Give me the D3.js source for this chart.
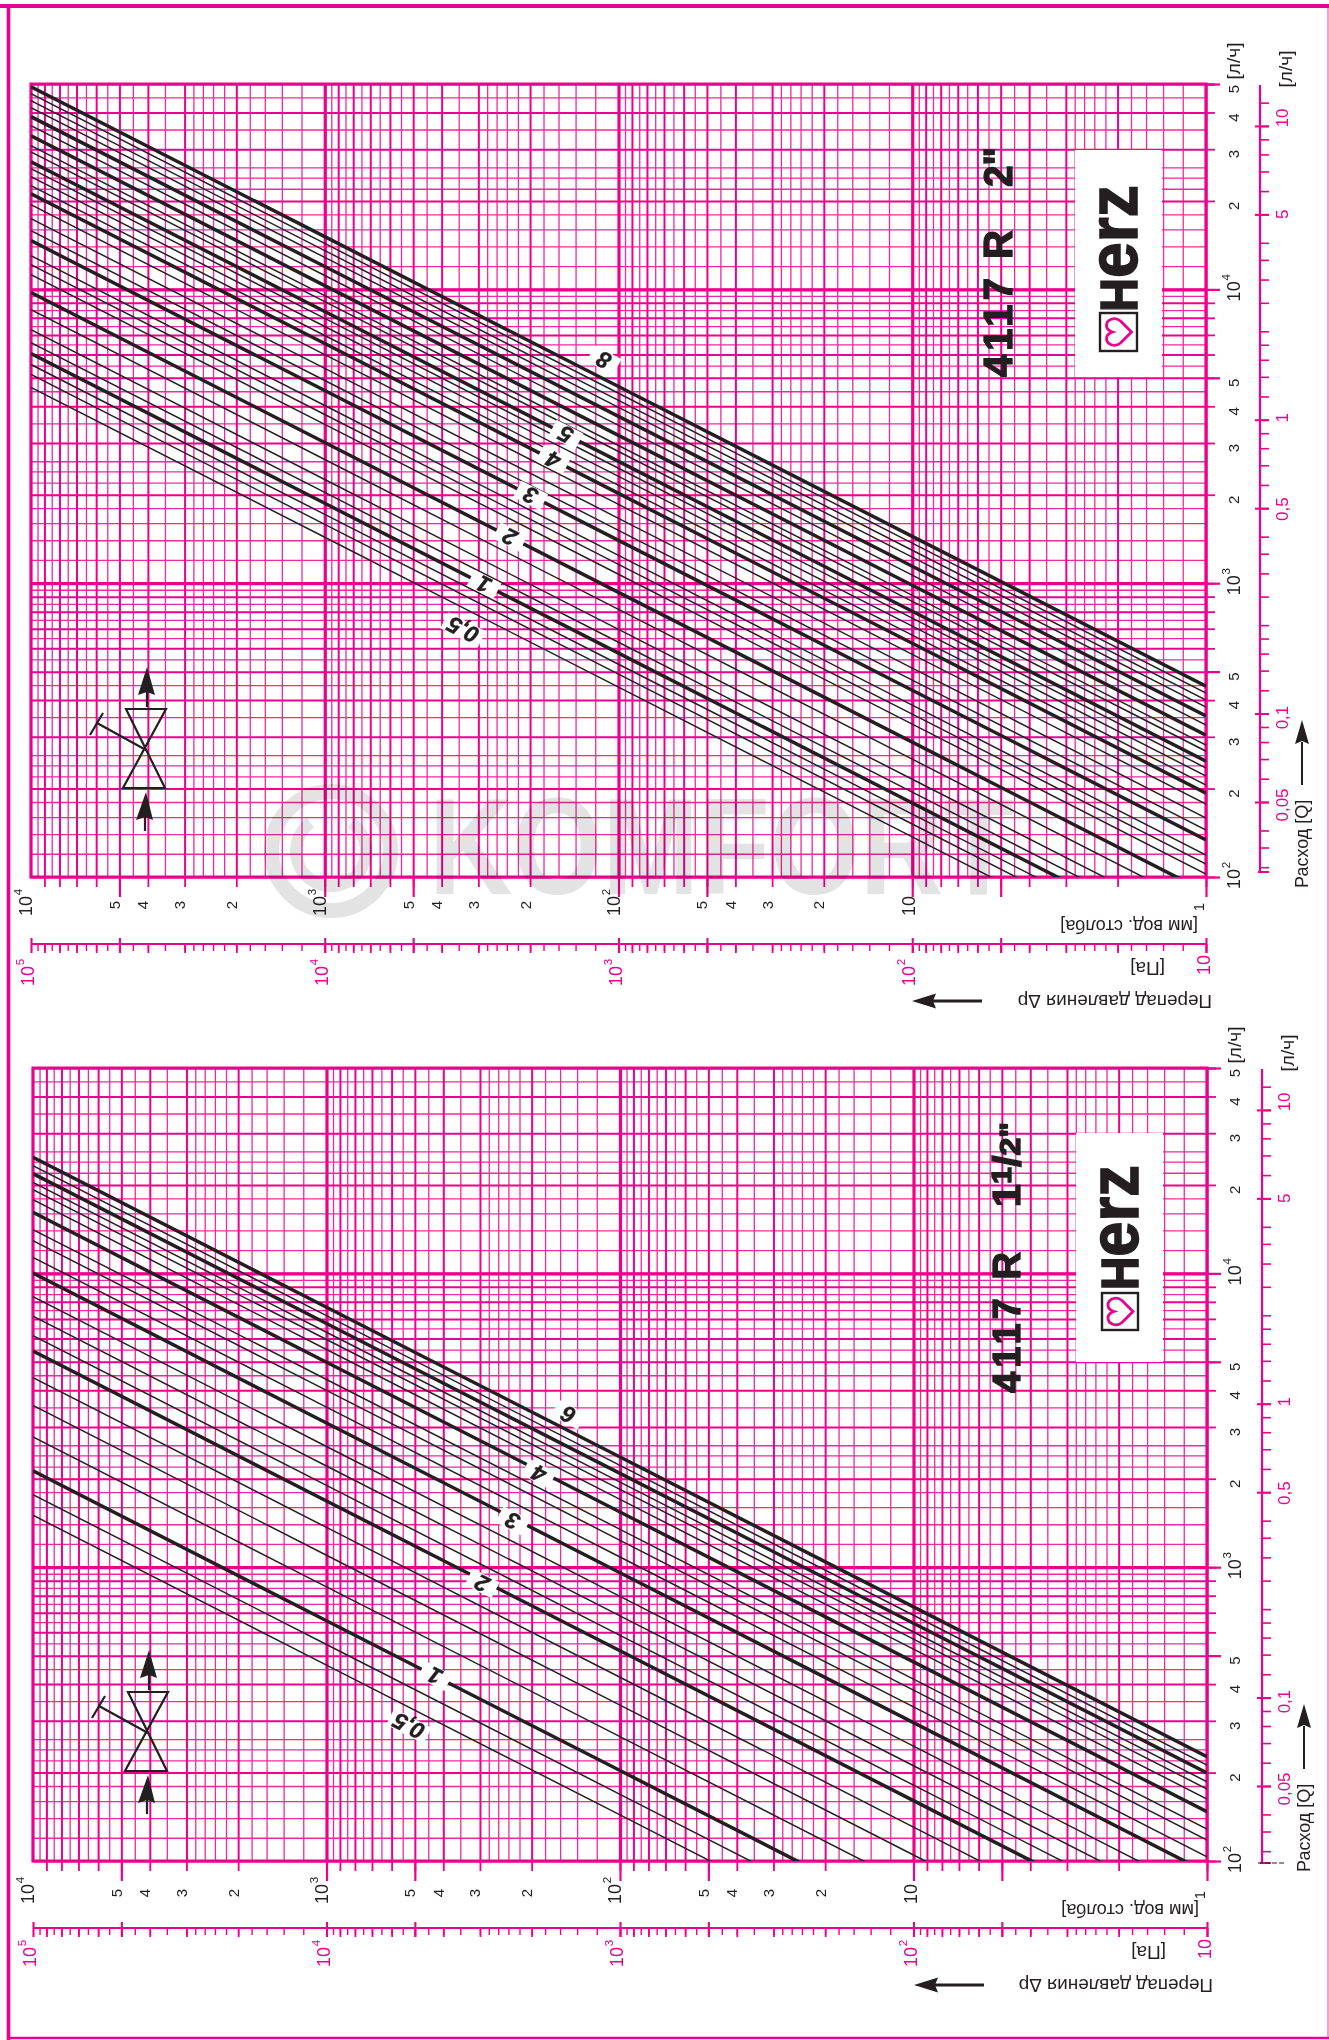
<!DOCTYPE html>
<html><head><meta charset="utf-8">
<style>html,body{margin:0;padding:0;background:#fff}svg{display:block}text{font-family:"Liberation Sans",Arial,sans-serif}</style>
<script src="https://cdn.jsdelivr.net/npm/d3@7/dist/d3.min.js"></script>
</head><body><script>
// ---- data ----
const flowMantissas=[1,1.2,1.4,1.6,1.8,2,2.2,2.4,2.6,3,3.5,4,4.5,5,5.5,6,6.5,7,7.5,8,8.5,9,9.5];
const dropMantissas=[1,1.2,1.4,1.6,1.8,2,2.2,2.4,2.6,2.8,3,3.5,4,4.5,5,5.5,6,6.5,7,7.5,8,8.5,9,9.5];
const majorMantissas=[1,2,3,4,5,6,7,8,9];
const heavyMantissas=[1,5];
const flowAxisMantissas=[1,1.2,1.4,1.6,1.8,2,2.5,3,3.5,4,5,6,7,8,9];
const digitLabels=[5,4,3,2];
const flowDecades=[100,1000,10000];
const dropDecades=[1,10,100,1000];
const flowExponent=0.51;
// flow [l/h] of each presetting curve at a drop of 1 mm
const thick2=[446,353,304,248,193,133.6,88.9,55.2];
const thin2=[423,400,379,329,281,268,235,220.6,205.6,177,158.8,144.5,118.8,110.7,102.4,77.8,66.5,60.1,50.6,46.8,42.3];
const thick15=[226.4,199.2,147.1,91.4,49.6,19.4];
const thin15=[212,186,175.8,162.5,128.5,117.9,103.4,76,65.2,56,40.3,32.4,25.3,16.1,13.7];
const labelText2=["8","5","4","3","2","1","0,5"];
const labelFlow2=[446,248,193,133.6,88.9,55.2,42.3];
const labelDrop2=[112,151,167,199,234,287,338];
const labelShift2=[-19,0,0,0,0,0,22];
const labelText15=["6","4","3","2","1","0,5"];
const labelFlow15=[226.4,147.1,91.4,49.6,19.4,13.7];
const labelDrop15=[150,189,232,295,427,524];
const labelShift15=[-16,3,3,3,0,19];
const lpsLabels=["10","5","1","0,5","0,1","0,05"];
const lpsValues=[10,5,1,0.5,0.1,0.05];
const lpsNudge=[-8,0,-2,1,4,3];

// ---- palette / layout ----
const PINK="#ec008c",INK="#231f20",FLOW_TOP=50000,FLOW_BOTTOM=100;
const W=1329,H=2040;
const svg=d3.select("body").append("svg").attr("width",W).attr("height",H).attr("viewBox",`0 0 ${W} ${H}`);
svg.append("rect").attr("width",W).attr("height",H).attr("fill","#fff");

const expand=(decades,mant,lo,hi)=>decades.flatMap(d=>mant.map(m=>+(d*m).toPrecision(6))).filter(v=>v>=lo&&v<=hi);
const clipId=(id)=>`clip-${id}`;

function rot(g,x,y,txt,o={}){
  return g.append("text").attr("transform",`translate(${x},${y}) rotate(${o.r===undefined?-90:o.r})`)
    .attr("text-anchor",o.a||"middle").attr("dominant-baseline","central")
    .attr("font-size",o.s||15).attr("font-weight",o.w||400).attr("font-style",o.i||"normal")
    .attr("fill",o.f||INK).text(txt);
}
function pow10(g,x,y,exp,f){
  rot(g,x,y,"10",{s:18,f});
  rot(g,x-8,y-14,exp,{s:11.5,f});
}
function styleTicks(sel,color,width){
  sel.select(".domain").remove();
  sel.selectAll("text").remove();
  sel.selectAll("line").attr("stroke",color).attr("stroke-width",width);
}

function chart(c){
  const g=svg.append("g").attr("id",c.id);
  const x=d3.scaleLog().domain([1e4,1]).range([c.l,c.r]);
  const y=d3.scaleLog().domain([FLOW_BOTTOM,FLOW_TOP]).range([c.b,c.t]);
  const pa=d3.scaleLog().domain([1e5,10]).range([c.l,c.r]);
  const lps=d3.scaleLog().domain([FLOW_BOTTOM/3600,FLOW_TOP/3600]).range([c.b,c.t]);
  const pw=c.r-c.l,ph=c.b-c.t;

  g.append("clipPath").attr("id",clipId(c.id)).append("rect").attr("x",c.l).attr("y",c.t).attr("width",pw).attr("height",ph);

  // grid
  const isMajor=v=>majorMantissas.includes(+(v/Math.pow(10,Math.floor(Math.log10(v)+1e-9))).toFixed(3));
  const isHeavy=v=>heavyMantissas.includes(+(v/Math.pow(10,Math.floor(Math.log10(v)+1e-9))).toFixed(3));
  const dropAll=expand(dropDecades,dropMantissas,1,1e4);
  const dropMajor=dropAll.filter(isMajor),dropMinor=dropAll.filter(v=>!isMajor(v));
  const flowAll=expand(flowDecades,flowMantissas,100,5e4);
  const flowMajor=flowAll.filter(isMajor),flowMinor=flowAll.filter(v=>!isMajor(v));

  const ax=(gen,tx,ty,col,w)=>{const s=g.append("g").attr("transform",`translate(${tx},${ty})`).call(gen);styleTicks(s,col,w);return s;};
  ax(d3.axisBottom(x).tickValues(dropMinor).tickSize(-ph).tickFormat(""),0,c.b,"#ee2a9c",1.3);
  ax(d3.axisLeft(y).tickValues(flowMinor).tickSize(-pw).tickFormat(""),c.l,0,"#ee2a9c",1.3);
  ax(d3.axisBottom(x).tickValues(dropMajor).tickSize(-ph).tickFormat(""),0,c.b,PINK,2);
  ax(d3.axisLeft(y).tickValues(flowMajor).tickSize(-pw).tickFormat(""),c.l,0,PINK,2);
  ax(d3.axisBottom(x).tickValues([10,100,1000]).tickSize(-ph).tickFormat(""),0,c.b,PINK,3.2);
  ax(d3.axisLeft(y).tickValues([1000,10000]).tickSize(-pw).tickFormat(""),c.l,0,PINK,3.2);

  // tick stubs out of the frame
  ax(d3.axisBottom(x).tickValues(dropMajor).tickSize(10).tickFormat(""),0,c.b,PINK,1.8);
  ax(d3.axisBottom(x).tickValues(dropMajor.filter(isHeavy)).tickSize(20).tickFormat(""),0,c.b,PINK,2.2);
  ax(d3.axisRight(y).tickValues(flowMajor.concat([FLOW_TOP])).tickSize(9).tickFormat(""),c.r,0,PINK,1.8);
  ax(d3.axisRight(y).tickValues(flowMajor.filter(isHeavy)).tickSize(14).tickFormat(""),c.r,0,PINK,2.2);

  // frame
  g.append("path").attr("d",`M${c.l},${c.t}H${c.r}V${c.b}H${c.l}Z`).attr("fill","none").attr("stroke",PINK).attr("stroke-width",3.2);

  // white plate behind the logo
  const lg=c.logo;
  g.append("rect").attr("x",lg.plateX0).attr("y",lg.plateY0).attr("width",lg.plateX1-lg.plateX0).attr("height",lg.plateY1-lg.plateY0).attr("fill","#fff");

  // presetting curves
  const curves=g.append("g").attr("clip-path",`url(#${clipId(c.id)})`);
  const line=q=>d3.line().x(d=>x(d)).y(d=>y(q*Math.pow(d,flowExponent)))([1e4,1000,100,10,1]);
  curves.selectAll(".thin").data(c.thin).join("path").attr("d",line).attr("fill","none").attr("stroke",INK).attr("stroke-width",1.5);
  curves.selectAll(".thick").data(c.thick).join("path").attr("d",line).attr("fill","none").attr("stroke",INK).attr("stroke-width",3.5);

  // curve labels, knocked out of the line work
  c.labelText.forEach((t,i)=>{
    const lx=x(c.labelDrop[i]),ly=y(c.labelFlow[i]*Math.pow(c.labelDrop[i],flowExponent))+c.labelShift[i];
    const lw=t.length>1?42:30;
    g.append("rect").attr("x",-lw/2).attr("y",-9).attr("width",lw).attr("height",18).attr("fill","#fff")
      .attr("transform",`translate(${lx},${ly}) rotate(27)`);
    rot(g,lx,ly,t,{r:207,s:23,w:700,i:"italic"}).attr("stroke",INK).attr("stroke-width",.4);
  });

  // lower pressure scale
  const paMinor=expand([10,100,1000,1e4],dropMantissas,10,1e5);
  ax(d3.axisBottom(pa).tickValues(paMinor).tickSize(7).tickFormat(""),0,c.paY,PINK,1.4);
  ax(d3.axisBottom(pa).tickValues(paMinor.filter(isMajor)).tickSize(9).tickFormat(""),0,c.paY,PINK,1.8);
  ax(d3.axisBottom(pa).tickValues(paMinor.filter(isHeavy).concat([1e5])).tickSize(15).tickFormat(""),0,c.paY-6,PINK,2.1);
  g.append("line").attr("x1",c.l).attr("x2",c.r).attr("y1",c.paY).attr("y2",c.paY).attr("stroke",PINK).attr("stroke-width",2.2);

  // right flow scale
  const lpsTicks=expand([0.01,0.1,1,10],flowAxisMantissas,FLOW_BOTTOM/3600*1.04,FLOW_TOP/3600);
  ax(d3.axisRight(lps).tickValues(lpsTicks).tickSize(9).tickFormat(""),c.qX,0,PINK,1.6);
  ax(d3.axisRight(lps).tickValues(lpsTicks.filter(isHeavy)).tickSize(14).tickFormat(""),c.qX-5,0,PINK,2.1);
  g.append("line").attr("x1",c.qX).attr("x2",c.qX).attr("y1",c.t+1).attr("y2",c.qEnd).attr("stroke",PINK).attr("stroke-width",2.2);
  g.append("line").attr("x1",c.qX-2).attr("x2",c.qX+9).attr("y1",c.qEnd).attr("y2",c.qEnd).attr("stroke",PINK).attr("stroke-width",2);

  // tick labels: drop in mm
  const numY=c.b+c.numDy;
  [1000,100,10].forEach(d=>digitLabels.forEach(m=>rot(g,x(d*m)-5,numY,String(m))));
  [[1e4,"4"],[1000,"3"],[100,"2"]].forEach(([v,e])=>pow10(g,x(v)-5,numY+1,e));
  rot(g,x(10)-3,numY+1,"10",{s:18});
  rot(g,x(1)-8,numY+2,"1",{s:15});
  // tick labels: pressure in Pa
  const pinkY=c.b+c.pinkDy;
  [[1e5,"5"],[1e4,"4"],[1000,"3"],[100,"2"]].forEach(([v,e])=>pow10(g,pa(v)-3,pinkY,e,PINK));
  rot(g,pa(10)-2,c.b+88,"10",{s:18,f:PINK});
  // tick labels: flow
  const fx=c.r+27;
  [10000,1000,100].forEach(d=>digitLabels.forEach(m=>{ if(d*m<=FLOW_TOP) rot(g,fx,y(d*m)+5,String(m)); }));
  [[10000,"4"],[1000,"3"],[100,"2"]].forEach(([v,e])=>pow10(g,fx+1,y(v)+2,e));
  lpsLabels.forEach((t,i)=>rot(g,c.qX+22,lps(lpsValues[i])+lpsNudge[i],t,{f:PINK,s:17}));
  rot(g,fx,c.t-23,"[л/ч]",{s:19});
  rot(g,c.qX+25,c.t-15,"[л/ч]",{s:19});

  // axis titles
  rot(g,c.r-8,c.b+49,"[мм вод. столба]",{r:180,a:"start",s:18.2});
  rot(g,c.r-41,c.b+91,"[Па]",{r:180,a:"start",s:19});
  rot(g,c.r+6,c.b+124,"Перепад давления Δp",{r:180,a:"start",s:18.9});
  rot(g,c.qX+42,c.b+11,"Расход [Q]",{a:"start",s:18});
  // arrows
  const ay=c.b+124;
  g.append("line").attr("x1",c.l+902).attr("x2",c.l+951).attr("y1",ay).attr("y2",ay).attr("stroke",INK).attr("stroke-width",2.8);
  g.append("path").attr("d",`M${c.l+881},${ay}L${c.l+905},${ay-7.5}L${c.l+902},${ay}L${c.l+905},${ay+7.5}Z`).attr("fill",INK);
  const qa=c.qX+42;
  g.append("line").attr("x1",qa).attr("x2",qa).attr("y1",c.b-92).attr("y2",c.b-135).attr("stroke",INK).attr("stroke-width",2);
  g.append("path").attr("d",`M${qa},${c.b-157}L${qa-7},${c.b-133}L${qa},${c.b-136}L${qa+7},${c.b-133}Z`).attr("fill",INK);

  // title
  const t=g.append("g");
  t.append("text").attr("transform",`translate(${c.titleX},${c.title1[0]}) rotate(-90)`).attr("font-size",c.titleSize).attr("font-weight",700)
    .attr("fill",INK).attr("stroke",INK).attr("stroke-width",1.4).attr("textLength",c.title1[0]-c.title1[1]).attr("lengthAdjust","spacing").text("4117 R");
  const st=t.append("text").attr("transform",`translate(${c.titleX},${c.title2[0]}) rotate(-90)`).attr("font-size",c.titleSize).attr("font-weight",700)
    .attr("fill",INK).attr("stroke",INK).attr("stroke-width",1.4).attr("textLength",c.title2[0]-c.title2[1]).attr("lengthAdjust","spacingAndGlyphs");
  c.size.forEach(p=>st.append("tspan").attr("font-size",p.s||c.titleSize).attr("dy",p.d||0).text(p.t));

  // logo
  const lt=g.append("text").attr("transform",`translate(${lg.base},${lg.y0}) rotate(-90)`).attr("font-weight",700)
    .attr("fill",INK).attr("stroke",INK).attr("stroke-width",1.6)
    .attr("textLength",lg.y0-lg.y1).attr("lengthAdjust","spacingAndGlyphs");
  lt.append("tspan").attr("font-size",51).text("H");
  lt.append("tspan").attr("font-size",70).text("erz");
  const bx=(lg.boxX0+lg.base)/2,by=(lg.boxY0+lg.boxY1)/2;
  g.append("rect").attr("x",lg.boxX0).attr("y",lg.boxY0).attr("width",lg.base-lg.boxX0).attr("height",lg.boxY1-lg.boxY0)
    .attr("fill","#fff").attr("stroke",INK).attr("stroke-width",2.4);
  g.append("path").attr("transform",`translate(${bx},${by}) rotate(-90)`)
    .attr("d","M0,13L-11,2C-16,-4 -12,-12 -6.5,-12C-3,-12 -1,-9 0,-6C1,-9 3,-12 6.5,-12C12,-12 16,-4 11,2Z")
    .attr("fill","none").attr("stroke",PINK).attr("stroke-width",2.8);

  // valve symbol
  const v=g.append("g").attr("transform",`translate(${c.valve[0]},${c.valve[1]})`).attr("fill","none").attr("stroke",INK).attr("stroke-width",2.2);
  v.append("path").attr("d","M-20,-41H20L-23,38H19Z");
  v.append("path").attr("d","M0,0L-49,-27M-56,-15L-43,-37");
  v.append("path").attr("d","M1,-58V-43M-1,67V81");
  v.append("path").attr("stroke","none").attr("fill",INK).attr("d","M1,-83L-8,-55L1,-58L9,-55Z");
  v.append("path").attr("stroke","none").attr("fill",INK).attr("d","M0,42L-10,70L-1,67L7,70Z");
}

chart({id:"dn50",size:[{t:'2"'}],l:31,r:1206,t:84,b:877,paY:944,qX:1260,qEnd:872,numDy:28,pinkDy:99,
  thick:thick2,thin:thin2,labelText:labelText2,labelFlow:labelFlow2,labelDrop:labelDrop2,labelShift:labelShift2,
  titleX:1012,titleSize:40,title1:[377,230],title2:[187,147],valve:[146,750],
  logo:{plateX0:1075,plateX1:1162,plateY0:150,plateY1:377,base:1137,y0:312,y1:185,boxX0:1100,boxY0:313,boxY1:351}});
chart({id:"dn40",size:[{t:"1"},{t:"1",s:28,d:-9},{t:"/",s:38,d:9},{t:'2"',s:30,d:0}],l:33,r:1207,t:1068,b:1861,paY:1928,qX:1262,qEnd:1863,numDy:32,pinkDy:96,
  thick:thick15,thin:thin15,labelText:labelText15,labelFlow:labelFlow15,labelDrop:labelDrop15,labelShift:labelShift15,
  titleX:1020,titleSize:38,title1:[1393,1252],title2:[1207,1122],valve:[148,1733],
  logo:{plateX0:1076,plateX1:1163,plateY0:1133,plateY1:1362,base:1138,y0:1290,y1:1165,boxX0:1102,boxY0:1293,boxY1:1330}});

// page border
const frame=svg.append("g").attr("stroke",PINK);
frame.append("line").attr("x1",0).attr("x2",W).attr("y1",6).attr("y2",6).attr("stroke-width",4);
frame.append("line").attr("x1",8.5).attr("x2",8.5).attr("y1",4).attr("y2",2040).attr("stroke-width",3.6);
frame.append("line").attr("x1",8).attr("x2",W).attr("y1",2038).attr("y2",2038).attr("stroke-width",2.4);
frame.append("line").attr("x1",1328).attr("x2",1328).attr("y1",6).attr("y2",2038).attr("stroke-width",1.4).attr("stroke-opacity",.55);
// stray printer's rule
svg.append("line").attr("x1",1258).attr("x2",1286).attr("y1",1863).attr("y2",1863).attr("stroke",INK).attr("stroke-width",1).attr("stroke-dasharray","5 2");

// watermark
const wm=svg.append("g").style("mix-blend-mode","multiply");
wm.append("circle").attr("cx",331).attr("cy",851).attr("r",59.5).attr("fill","none").attr("stroke","#e3e3e3").attr("stroke-width",15);
wm.append("path").attr("d",d3.arc()({innerRadius:29,outerRadius:41,startAngle:Math.PI*0.2,endAngle:Math.PI*1.8})).attr("transform","translate(331,851)").attr("fill","#e3e3e3");
wm.append("text").attr("x",429).attr("y",894).attr("font-size",137).attr("font-weight",700).attr("fill","#e3e3e3")
  .attr("textLength",585).attr("lengthAdjust","spacingAndGlyphs").text("KOMFORT");
</script></body></html>
